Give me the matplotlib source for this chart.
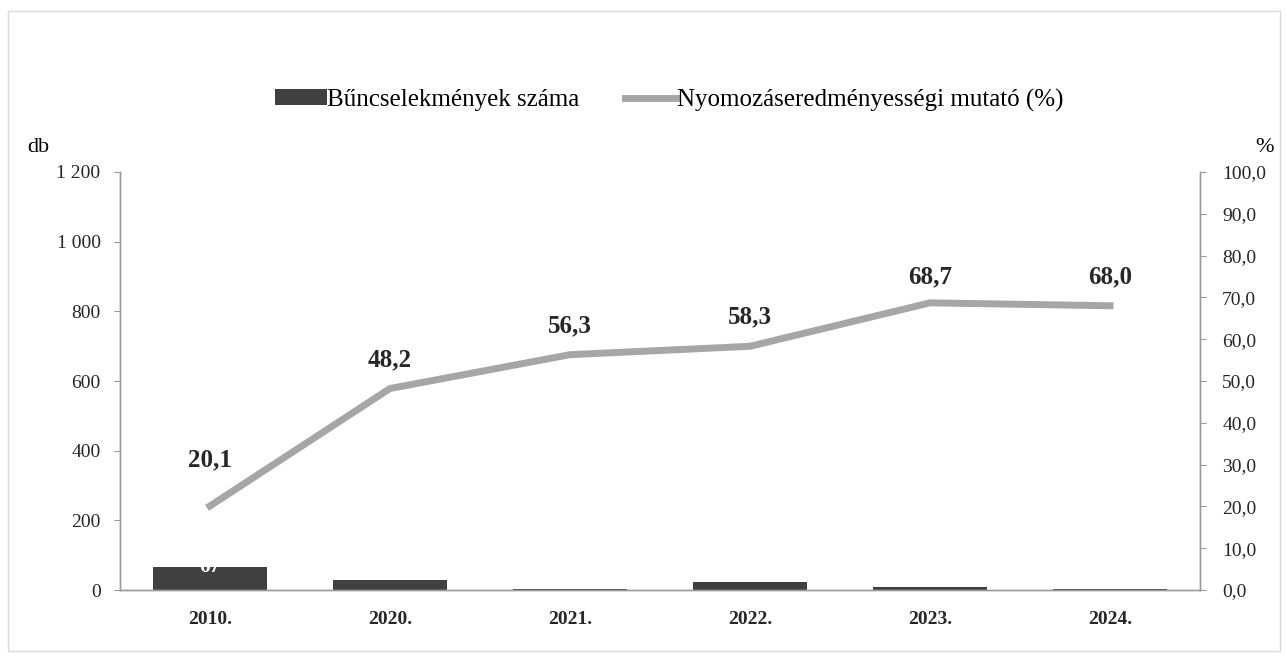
import numpy as np
import matplotlib.pyplot as plt
from matplotlib.patches import Rectangle

plt.rcParams['font.family'] = ['Liberation Serif', 'DejaVu Serif']

# Adatok
evek = ["2010.", "2020.", "2021.", "2022.", "2023.", "2024."]
bunc_szama = [67, 28, 3, 24, 8, 4]
mutato = [20.1, 48.2, 56.3, 58.3, 68.7, 68.0]

bal_ticks = [0, 200, 400, 600, 800, 1000, 1200]
bal_labels = ["0", "200", "400", "600", "800", "1 000", "1 200"]
jobb_ticks = [0, 10, 20, 30, 40, 50, 60, 70, 80, 90, 100]

sotet = '#404040'
vilagos = '#a6a6a6'
tengely = '#9a9a9a'

fig = plt.figure(figsize=(12.87, 6.59), dpi=100)
ax = fig.add_axes([0.0932, 0.1047, 0.8392, 0.6343])
ax2 = ax.twinx()

x = np.arange(len(evek))
oszlop = ax.bar(x, bunc_szama, width=0.63, color=sotet, zorder=2,
                label='Bűncselekmények száma')
vonal, = ax2.plot(x, mutato, color=vilagos, linewidth=5, solid_joinstyle='round',
                  label='Nyomozáseredményességi mutató (%)')

# a 2010-es oszlop felirata fehér, félig kilóg
ax.text(x[0], bunc_szama[0], str(bunc_szama[0]), color='white', ha='center',
        va='center', fontsize=15, fontweight='bold', zorder=3)

# címkék a vonal fölött
eltolas = [33, 21, 21, 21, 19, 21]
for i, v in enumerate(mutato):
    ax2.annotate(f"{v:.1f}".replace('.', ','), (x[i], v), xytext=(0, eltolas[i]),
                 textcoords='offset points', ha='center', va='center',
                 fontsize=18, fontweight='bold', color='#262626')

ax.set_xlim(-0.5, len(evek) - 0.5)
ax.set_ylim(0, 1200)
ax2.set_ylim(0, 100)
ax.set_yticks(bal_ticks)
ax.set_yticklabels(bal_labels)
ax2.set_yticks(jobb_ticks)
ax2.set_yticklabels([f"{t:.1f}".replace('.', ',') for t in jobb_ticks])
ax.set_xticks(x)
ax.set_xticklabels(evek, fontweight='bold', fontsize=14)

for a in (ax, ax2):
    a.spines['top'].set_visible(False)
    for s in ('left', 'right', 'bottom'):
        a.spines[s].set_color(tengely)
        a.spines[s].set_linewidth(1)
    a.tick_params(axis='y', labelsize=14, color=tengely, length=4, labelcolor='#262626')
ax.tick_params(axis='x', length=0, pad=15, labelcolor='#262626')
ax.tick_params(axis='y', pad=10)
ax2.tick_params(axis='y', pad=12)

fig.text(38 / 1287, 1 - 148 / 659, 'db', fontsize=16, ha='center', va='center')
fig.text(1264 / 1287, 1 - 148 / 659, '%', fontsize=16, ha='center', va='center')

fig.legend(handles=[oszlop, vonal], loc='center', bbox_to_anchor=(0.52, 1 - 100 / 659),
           ncol=2, frameon=False, fontsize=18, handlelength=2.1, handletextpad=0.0,
           columnspacing=1.8, handleheight=0.6)

# halvány keret a kép körül
fig.patches.append(Rectangle((8 / 1287, 8 / 659), 1272 / 1287, 640 / 659,
                             transform=fig.transFigure, fill=False,
                             edgecolor='#d9d9d9', linewidth=1))

fig.savefig('out.png', dpi=100)
